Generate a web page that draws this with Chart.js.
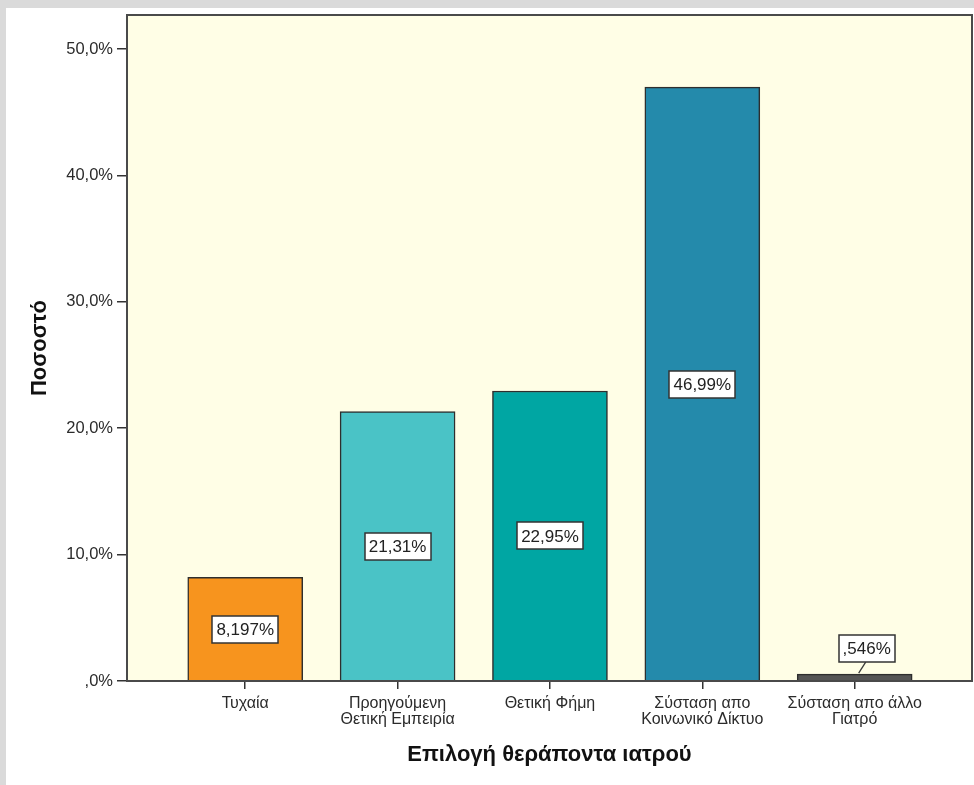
<!DOCTYPE html>
<html>
<head>
<meta charset="utf-8">
<script src="https://cdn.jsdelivr.net/npm/chart.js@4/dist/chart.umd.min.js"></script>
<style>
  html, body { margin: 0; padding: 0; width: 974px; height: 785px; overflow: hidden; background: #dadada; }
  #panel { position: absolute; left: 6px; top: 8px; width: 968px; height: 777px; background: #ffffff; }
  #wrap { position: absolute; left: 0; top: 0; width: 974px; height: 785px; }
</style>
</head>
<body>
<div id="panel"></div>
<div id="wrap"><canvas id="chart" width="974" height="785"></canvas></div>
<script>
// Categories (multi-line tick labels) and percentage per category
const categories = [
  ['Τυχαία'],
  ['Προηγούμενη', 'Θετική Εμπειρία'],
  ['Θετική Φήμη'],
  ['Σύσταση απο', 'Κοινωνικό Δίκτυο'],
  ['Σύσταση απο άλλο', 'Γιατρό']
];
const percentages = [8.197, 21.31, 22.95, 46.99, 0.546];
const barColors = ['#f7941e', '#4ac3c6', '#00a6a3', '#248aab', '#555555'];
const yTickValues = [0, 10, 20, 30, 40, 50];
const yTickLabels = [',0%', '10,0%', '20,0%', '30,0%', '40,0%', '50,0%'];

const FONT = '"Liberation Sans", Arial, sans-serif';

// SPSS-style value text: 4 significant digits, decimal comma, no leading zero
function formatPct(v) {
  let s = v.toPrecision(4);
  if (s.indexOf('.') >= 0) s = s.replace(/0+$/, '').replace(/\.$/, '');
  s = s.replace(/^0\./, '.');
  return s.replace('.', ',') + '%';
}

const plotBackground = {
  id: 'plotBackground',
  beforeDraw(chart) {
    const { ctx, chartArea: a } = chart;
    ctx.save();
    ctx.fillStyle = '#fffee6';
    ctx.fillRect(a.left, a.top, a.right - a.left, a.bottom - a.top);
    ctx.restore();
  }
};

const plotFrame = {
  id: 'plotFrame',
  afterDatasetsDraw(chart) {
    const { ctx, chartArea: a } = chart;
    ctx.save();
    ctx.strokeStyle = '#4a4a4a';
    ctx.lineWidth = 2;
    ctx.strokeRect(a.left, a.top, a.right - a.left, a.bottom - a.top);
    ctx.restore();
  }
};

const valueBoxes = {
  id: 'valueBoxes',
  afterDraw(chart) {
    const { ctx } = chart;
    const y = chart.scales.y;
    const meta = chart.getDatasetMeta(0);
    ctx.save();
    ctx.font = '17px ' + FONT;
    ctx.textAlign = 'center';
    ctx.textBaseline = 'middle';
    meta.data.forEach((bar, i) => {
      const v = percentages[i];
      const text = formatPct(v);
      const w = Math.round(ctx.measureText(text).width + 8);
      const h = 27;
      let cx = bar.x;
      let cy = y.getPixelForValue(v / 2);
      const barHeight = y.getPixelForValue(0) - bar.y;
      if (barHeight < h + 10) {
        // too short for an inside label: put it above with a leader line
        cx = bar.x + 12;
        cy = bar.y - 12 - h / 2;
        ctx.strokeStyle = '#3a3a3a';
        ctx.lineWidth = 1.3;
        ctx.beginPath();
        ctx.moveTo(bar.x + 4, bar.y - 1);
        ctx.lineTo(cx - 1, cy + h / 2);
        ctx.stroke();
      }
      const x0 = Math.round(cx - w / 2), y0 = Math.round(cy - h / 2);
      ctx.fillStyle = '#ffffff';
      ctx.fillRect(x0, y0, w, h);
      ctx.strokeStyle = '#333333';
      ctx.lineWidth = 1.5;
      ctx.strokeRect(x0, y0, w, h);
      ctx.fillStyle = '#222222';
      ctx.fillText(text, cx, cy + 1);
    });
    ctx.restore();
  }
};

new Chart(document.getElementById('chart'), {
  type: 'bar',
  data: {
    datasets: [{
      data: percentages.map((v, i) => ({ x: i, y: v })),
      backgroundColor: barColors,
      borderColor: '#2e2e2e',
      borderWidth: 1.5,
      barThickness: 115
    }]
  },
  options: {
    responsive: false,
    animation: false,
    layout: { padding: { left: 0, top: 15, right: 2, bottom: 0 } },
    plugins: { legend: { display: false }, tooltip: { enabled: false } },
    scales: {
      x: {
        type: 'linear',
        offset: false,
        min: -0.776,
        max: 4.77,
        afterBuildTicks: s => { s.ticks = categories.map((_, i) => ({ value: i })); },
        afterFit: s => { s.height = 104; },
        border: { display: false },
        grid: { offset: false, drawOnChartArea: false, drawTicks: true, tickLength: 8, color: '#333333', lineWidth: 1.5 },
        ticks: {
          autoSkip: false,
          maxRotation: 0,
          padding: 7,
          color: '#2b2b2b',
          font: { family: FONT, size: 16, lineHeight: '15.5px' },
          callback: (v, i) => categories[i]
        },
        title: {
          display: true,
          text: 'Επιλογή θεράποντα ιατρού',
          color: '#111111',
          font: { family: FONT, size: 22, weight: 'bold', lineHeight: 1.2 },
          padding: { top: 0, bottom: 17 }
        }
      },
      y: {
        min: 0,
        max: 52.7,
        afterBuildTicks: s => { s.ticks = yTickValues.map(v => ({ value: v })); },
        afterFit: s => { s.width = 127; },
        border: { display: false },
        grid: { drawOnChartArea: false, drawTicks: true, tickLength: 10, color: '#333333', lineWidth: 1.5 },
        ticks: {
          padding: 4,
          color: '#2b2b2b',
          font: { family: FONT, size: 16.5 },
          callback: (v, i) => yTickLabels[i]
        },
        title: {
          display: true,
          text: 'Ποσοστό',
          color: '#111111',
          font: { family: FONT, size: 22, weight: 'bold', lineHeight: 1.2 },
          padding: { top: 27, bottom: 0 }
        }
      }
    }
  },
  plugins: [plotBackground, plotFrame, valueBoxes]
});
</script>
</body>
</html>
